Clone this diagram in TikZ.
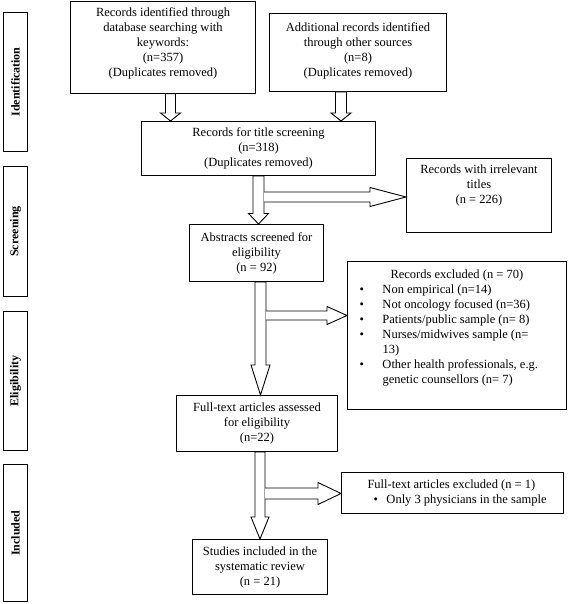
\documentclass[tikz,border=0pt]{standalone}
\usepackage{fontspec}
\setmainfont{Liberation Serif}
\usetikzlibrary{calc}
\newcommand\bodyfont{\fontsize{12.5}{15}\selectfont}
\newcommand\topbox[4]{\begin{minipage}[c][#2pt][t]{#1pt}\centering\rule{0pt}{#3pt}#4\end{minipage}}
\newcommand\bitem[1]{\par\hangindent=35pt\hangafter=1\hspace*{12pt}\makebox[23pt][l]{\textbullet}#1\par}
% vertical hollow arrow: #1 x, #2 from node, #3 to node, #4 half shaft, #5 half head, #6 head length
\newcommand\varrow[6]{%
  \draw[hollow] let \p1=(#2.south), \p2=(#3.north) in
    (#1pt-#4pt,\y1) -- (#1pt-#4pt,\y2+#6pt) -- (#1pt-#5pt,\y2+#6pt) -- (#1pt,\y2)
    -- (#1pt+#5pt,\y2+#6pt) -- (#1pt+#4pt,\y2+#6pt) -- (#1pt+#4pt,\y1) -- cycle;}
% horizontal branch: #1 x start, #2 y centre (negative), #3 target node, #4 half shaft, #5 half head, #6 head length
\newcommand\harrow[6]{%
  \filldraw[hollow] let \p1=(#3.west) in
    (#1pt,#2pt+#4pt) -- (\x1-#6pt,#2pt+#4pt) -- (\x1-#6pt,#2pt+#5pt) -- (\x1,#2pt)
    -- (\x1-#6pt,#2pt-#5pt) -- (\x1-#6pt,#2pt-#4pt) -- (#1pt,#2pt-#4pt);}
\begin{document}
\begin{tikzpicture}[x=1pt,y=1pt,
  box/.style={draw, line width=1pt, inner sep=0pt, anchor=north west, font=\bodyfont},
  cbox/.style={box, align=center},
  side/.style={draw, line width=1.7pt, rotate=90, inner sep=0pt, minimum height=24pt,
    font=\bfseries\fontsize{12}{14}\selectfont},
  hollow/.style={draw=black, line width=0.9pt, fill=white}]
\useasboundingbox (0,0) rectangle (568,-604);

% side labels
\node[side, minimum width=139pt] (s1) at (15.5,-82) {Identification};
\node[side, minimum width=130pt] (s2) at (15.5,-231.5) {Screening};
\node[side, minimum width=139pt] (s3) at (15.5,-381) {Eligibility};
\node[side, minimum width=137pt] (s4) at (15.5,-533) {Included};

% boxes
\node[box, minimum width=185pt, minimum height=92pt] (b1) at (70,-0.6)
  {\topbox{185}{92}{15}{Records identified through\\database searching with\\keywords:\\(n=357)\\(Duplicates removed)}};
\node[box, minimum width=177pt, minimum height=78pt] (b2) at (269,-13)
  {\topbox{177}{78}{18}{Additional records identified\\through other sources\\(n=8)\\(Duplicates removed)}};
\node[cbox, minimum width=234pt, minimum height=54pt] (b3) at (141,-121)
  {Records for title screening\\(n=318)\\(Duplicates removed)};
\node[box, minimum width=145pt, minimum height=74pt] (b4) at (406,-158)
  {\topbox{145}{74}{15}{Records with irrelevant\\titles\\(n = 226)}};
\node[cbox, minimum width=134pt, minimum height=57pt] (b5) at (189,-224)
  {Abstracts screened for\\eligibility\\(n = 92)};
\node[box, minimum width=219pt, minimum height=148pt] (b6) at (347,-261)
  {\begin{minipage}[c][148pt][t]{219pt}\raggedright\parindent=0pt
   \rule{0pt}{17pt}\hspace*{43pt}Records excluded (n = 70)\par
   \bitem{Non empirical (n=14)}
   \bitem{Not oncology focused (n=36)}
   \bitem{Patients/public sample (n= 8)}
   \bitem{Nurses/midwives sample (n=\newline 13)}
   \bitem{Other health professionals, e.g.\newline genetic counsellors (n= 7)}
   \end{minipage}};
\node[cbox, minimum width=161pt, minimum height=56pt] (b7) at (176,-395)
  {Full-text articles assessed\\for eligibility\\(n=22)};
\node[box, minimum width=222pt, minimum height=41pt] (b8) at (341,-472)
  {\begin{minipage}[c][41pt][t]{222pt}\raggedright\parindent=0pt
   \rule{0pt}{16pt}\hspace*{26pt}Full-text articles excluded (n = 1)\par
   \hspace*{32pt}\makebox[13pt][l]{\textbullet}Only 3 physicians in the sample
   \end{minipage}};
\node[cbox, minimum width=135pt, minimum height=55pt] (b9) at (192,-539)
  {Studies included in the\\systematic review\\(n = 21)};

% arrows
\varrow{170.5}{b1}{b3}{5}{10}{8}
\varrow{341}{b2}{b3}{5.5}{10}{8}
\varrow{258.5}{b3}{b5}{5.5}{10}{10.5}
\harrow{264}{-197}{b4}{5}{9.5}{36}
\varrow{260.5}{b5}{b7}{5.5}{9.5}{30}
\harrow{266}{-315.5}{b6}{4.5}{9}{20}
\varrow{260}{b7}{b9}{5}{9}{22}
\harrow{265}{-493.5}{b8}{5.5}{11}{23}
\end{tikzpicture}
\end{document}
